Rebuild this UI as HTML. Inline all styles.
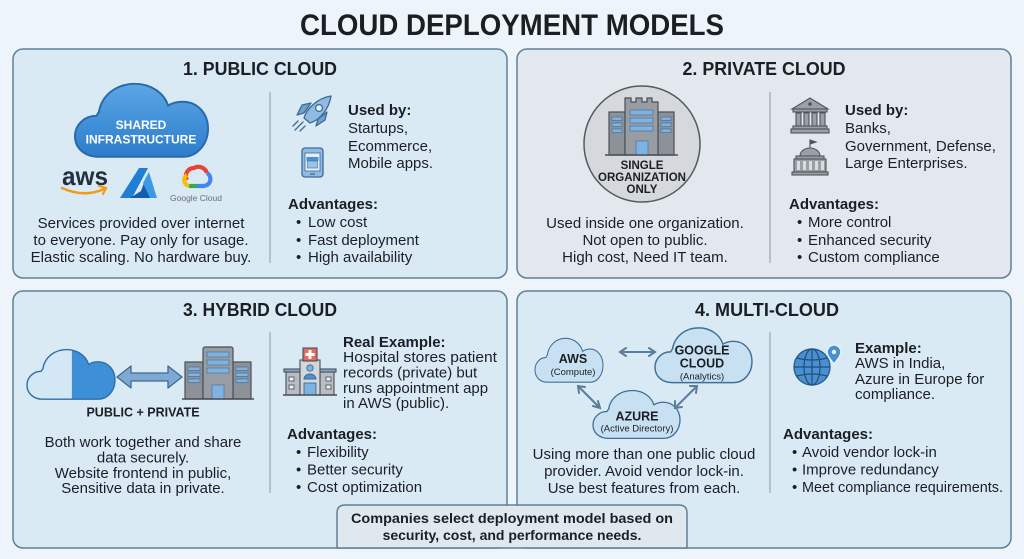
<!DOCTYPE html>
<html><head><meta charset="utf-8"><style>
html,body{margin:0;padding:0;background:#edf5fa;}
body{width:1024px;height:559px;overflow:hidden;}
svg{display:block;}
text{font-family:"Liberation Sans",Arial,sans-serif;fill:#1b1f24;}
.b{font-weight:bold;}
.t15{font-size:15px;}
</style></head><body>
<svg width="1024" height="559" viewBox="0 0 1024 559" xmlns="http://www.w3.org/2000/svg">
<defs>
<path id="cl" d="M18,60 C7,60 0,53 0,44 C0,35 7,28 16,28 C17,27 17,26 18,25 C20,12 31,3 45,3 C57,3 67,10 70,20 C73,18 77,17 81,17 C92,17 100,26 100,38 C100,50 92,60 81,60 Z"/>
<linearGradient id="gb" x1="0" y1="0" x2="0" y2="1"><stop offset="0" stop-color="#5aa6e6"/><stop offset="1" stop-color="#2d7dcb"/></linearGradient>
<clipPath id="cLx"><rect x="0" y="0" width="51" height="70"/></clipPath>
<clipPath id="cRx"><rect x="51" y="0" width="60" height="70"/></clipPath>
</defs>
<rect width="1024" height="559" fill="#edf5fa"/>

<!-- Title -->
<text x="512" y="35" class="b" font-size="30" text-anchor="middle" textLength="424" lengthAdjust="spacingAndGlyphs">CLOUD DEPLOYMENT MODELS</text>

<!-- Panels -->
<rect x="13" y="49" width="494" height="229" rx="10" fill="#daeaf5" stroke="#5f7f98" stroke-width="1.5"/>
<rect x="517" y="49" width="494" height="229" rx="10" fill="#e2e8ee" stroke="#5f7f98" stroke-width="1.5"/>
<rect x="13" y="291" width="494" height="257" rx="10" fill="#daeaf5" stroke="#5f7f98" stroke-width="1.5"/>
<rect x="517" y="291" width="494" height="257" rx="10" fill="#daeaf5" stroke="#5f7f98" stroke-width="1.5"/>

<!-- dividers -->
<line x1="270" y1="92" x2="270" y2="263" stroke="#9aa8b4" stroke-width="1.2"/>
<line x1="770" y1="92" x2="770" y2="263" stroke="#9aa8b4" stroke-width="1.2"/>
<line x1="270" y1="332" x2="270" y2="493" stroke="#9aa8b4" stroke-width="1.2"/>
<line x1="770" y1="332" x2="770" y2="493" stroke="#9aa8b4" stroke-width="1.2"/>

<!-- Headings -->
<text x="260" y="75" class="b" font-size="18.5" text-anchor="middle" textLength="154" lengthAdjust="spacingAndGlyphs">1. PUBLIC CLOUD</text>
<text x="764" y="75" class="b" font-size="18.5" text-anchor="middle" textLength="163" lengthAdjust="spacingAndGlyphs">2. PRIVATE CLOUD</text>
<text x="260" y="316" class="b" font-size="18.5" text-anchor="middle" textLength="154" lengthAdjust="spacingAndGlyphs">3. HYBRID CLOUD</text>
<text x="767" y="316" class="b" font-size="18.5" text-anchor="middle" textLength="144" lengthAdjust="spacingAndGlyphs">4. MULTI-CLOUD</text>

<!-- ===== Panel 1 ===== -->
<use href="#cl" transform="translate(75,80) scale(1.33,1.28)" fill="url(#gb)" stroke="#2a6aa8" stroke-width="1.5" vector-effect="non-scaling-stroke"/>
<text x="141" y="129" class="b" font-size="12" text-anchor="middle" style="fill:#fff">SHARED</text>
<text x="141" y="143.5" class="b" font-size="12" text-anchor="middle" style="fill:#fff">INFRASTRUCTURE</text>
<!-- aws -->
<text x="85" y="185" font-size="26" text-anchor="middle" style="fill:#232f3e;font-weight:bold" textLength="46" lengthAdjust="spacingAndGlyphs">aws</text>
<path d="M62,188 Q84,198 104,189" fill="none" stroke="#f49a1a" stroke-width="2.6" stroke-linecap="round"/>
<path d="M99,186 L106,188 L103,194" fill="none" stroke="#f49a1a" stroke-width="2.2" stroke-linecap="round"/>
<!-- azure -->
<path d="M139,168 L148,168 L132,198 L120,198 Z" fill="#1f7fd4"/>
<path d="M146,177 L157,198 L130,198 L141,191 Z" fill="#0f5fae"/>
<path d="M149,172 L157,198 L150,198 L143,183 Z" fill="#3a9ae6"/>
<!-- google cloud -->
<path d="M187,180 A8,8 0 0 1 194,168 A9,9 0 0 1 207,173" fill="none" stroke="#ea4335" stroke-width="4.2"/>
<path d="M207,173 A7,7 0 0 1 203,186 L197,186" fill="none" stroke="#4285f4" stroke-width="4.2"/>
<path d="M197,186 L189,186" fill="none" stroke="#34a853" stroke-width="4.2"/>
<path d="M189,186 A6,6 0 0 1 187,175" fill="none" stroke="#fbbc05" stroke-width="4.2"/>
<text x="196" y="201" font-size="8.5" text-anchor="middle" style="fill:#6a6e73">Google Cloud</text>
<!-- desc -->
<text x="141" y="228" class="t15" text-anchor="middle">Services provided over internet</text>
<text x="141" y="245" class="t15" text-anchor="middle">to everyone. Pay only for usage.</text>
<text x="141" y="262" class="t15" text-anchor="middle">Elastic scaling. No hardware buy.</text>
<!-- rocket -->
<g stroke="#3d6a94" stroke-width="1.3" stroke-linejoin="round">
<path d="M304,113 L297,115 L302,105 L311,103 Z" fill="#6fa0cf"/>
<path d="M318,119 L316,126 L325,120 L327,112 Z" fill="#6fa0cf"/>
<path d="M304,118 C307,108 318,98 331,96 C329,109 320,120 310,123 Z" fill="#8fbbe2"/>
<circle cx="319" cy="108" r="3.4" fill="#e8f2fa"/>
</g>
<path d="M295,130 L303,122 M300,131 L305,126 M293,126 L298,121" stroke="#3d6a94" stroke-width="1.3" stroke-linecap="round"/>
<!-- phone -->
<rect x="302" y="148" width="21" height="29" rx="3" fill="#8fbbe2" stroke="#3d6a94" stroke-width="1.3"/>
<rect x="305" y="153" width="15" height="18" fill="#e4eff8" stroke="#3d6a94" stroke-width="0.8"/>
<rect x="306.5" y="157" width="12" height="4" fill="#4f8fcf"/>
<rect x="307.5" y="161" width="10" height="7" fill="#9cc4e8" stroke="#3d6a94" stroke-width="0.6"/>
<line x1="310" y1="174" x2="315" y2="174" stroke="#3d6a94" stroke-width="1.3"/>
<!-- right text -->
<text x="348" y="115" class="b t15">Used by:</text>
<text x="348" y="133" class="t15">Startups,</text>
<text x="348" y="151" class="t15">Ecommerce,</text>
<text x="348" y="168" class="t15">Mobile apps.</text>
<text x="288" y="209" class="b t15">Advantages:</text>
<text x="296" y="227" class="t15">•</text><text x="308" y="227" class="t15">Low cost</text>
<text x="296" y="245" class="t15">•</text><text x="308" y="245" class="t15">Fast deployment</text>
<text x="296" y="262" class="t15">•</text><text x="308" y="262" class="t15">High availability</text>

<!-- ===== Panel 2 ===== -->
<circle cx="642" cy="144" r="58" fill="#d5d9dd" stroke="#55595e" stroke-width="1.5"/>
<g stroke="#4a4f55" stroke-width="1.2">
<rect x="609" y="112" width="16" height="43" fill="#8c9298"/>
<rect x="658" y="112" width="16" height="43" fill="#8c9298"/>
<path d="M625,155 L625,104 L625,98 L631,98 L631,102 L636,102 L636,98 L642,98 L642,102 L647,102 L647,98 L652,98 L652,102 L658,102 L658,155 Z" fill="#979da3"/>
</g>
<g fill="#7fb2e0" stroke="#3d6a94" stroke-width="0.6">
<rect x="630" y="110" width="23" height="5"/><rect x="630" y="118" width="23" height="5"/><rect x="630" y="126" width="23" height="5"/>
<rect x="612" y="117" width="10" height="3.5"/><rect x="612" y="123" width="10" height="3.5"/><rect x="612" y="129" width="10" height="3.5"/>
<rect x="661" y="117" width="10" height="3.5"/><rect x="661" y="123" width="10" height="3.5"/><rect x="661" y="129" width="10" height="3.5"/>
<rect x="636" y="141" width="12" height="14"/>
</g>
<line x1="605" y1="155" x2="678" y2="155" stroke="#4a4f55" stroke-width="1.5"/>
<text x="642" y="169" class="b" font-size="11.5" text-anchor="middle">SINGLE</text>
<text x="642" y="181" class="b" font-size="11.5" text-anchor="middle">ORGANIZATION</text>
<text x="642" y="193" class="b" font-size="11.5" text-anchor="middle">ONLY</text>
<text x="645" y="228" class="t15" text-anchor="middle">Used inside one organization.</text>
<text x="645" y="245" class="t15" text-anchor="middle">Not open to public.</text>
<text x="645" y="262" class="t15" text-anchor="middle">High cost, Need IT team.</text>
<!-- bank -->
<g fill="#9aa0a6" stroke="#50555a" stroke-width="1.1">
<path d="M792,109 L810,98 L828,109 Z"/>
<rect x="793" y="109" width="34" height="3"/>
<rect x="796" y="113" width="5" height="13"/><rect x="804" y="113" width="5" height="13"/><rect x="812" y="113" width="5" height="13"/><rect x="820" y="113" width="5" height="13"/>
<rect x="793" y="126" width="34" height="3"/><rect x="791" y="129" width="38" height="4"/>
</g>
<circle cx="810" cy="104" r="1.8" fill="#50555a"/>
<!-- government -->
<g fill="#9aa0a6" stroke="#50555a" stroke-width="1.1">
<line x1="810" y1="140" x2="810" y2="149"/>
<path d="M810,140 L816,142 L810,144 Z" fill="#50555a"/>
<path d="M800,156 A10,8 0 0 1 820,156 Z"/>
<rect x="796" y="156" width="28" height="3"/>
<rect x="794" y="159" width="32" height="13"/>
<rect x="792" y="172" width="36" height="3"/>
</g>
<g fill="#d9dde1"><rect x="797" y="161" width="3" height="9"/><rect x="803" y="161" width="3" height="9"/><rect x="809" y="161" width="3" height="9"/><rect x="815" y="161" width="3" height="9"/><rect x="821" y="161" width="3" height="9"/></g>
<text x="845" y="115" class="b t15">Used by:</text>
<text x="845" y="133" class="t15">Banks,</text>
<text x="845" y="151" class="t15">Government, Defense,</text>
<text x="845" y="168" class="t15">Large Enterprises.</text>
<text x="789" y="209" class="b t15">Advantages:</text>
<text x="797" y="227" class="t15">•</text><text x="808" y="227" class="t15">More control</text>
<text x="797" y="245" class="t15">•</text><text x="808" y="245" class="t15">Enhanced security</text>
<text x="797" y="262" class="t15">•</text><text x="808" y="262" class="t15">Custom compliance</text>

<!-- ===== Panel 3 ===== -->
<use href="#cl" transform="translate(27,347) scale(0.88,0.87)" fill="#d3e7f5" stroke="none" clip-path="url(#cLx)"/>
<use href="#cl" transform="translate(27,347) scale(0.88,0.87)" fill="#3d8fd6" stroke="none" clip-path="url(#cRx)"/>
<use href="#cl" transform="translate(27,347) scale(0.88,0.87)" fill="none" stroke="#2d6fa8" stroke-width="1.6" vector-effect="non-scaling-stroke"/>
<!-- double arrow -->
<polygon points="117,377 131,366 131,373 168,373 168,366 182,377 168,388 168,381 131,381 131,388" fill="#7ea9d3" stroke="#3d6a94" stroke-width="1.3" stroke-linejoin="round"/>
<!-- hybrid building -->
<g stroke="#4a4f55" stroke-width="1.2">
<rect x="185" y="362" width="18" height="37" fill="#8c9298"/>
<rect x="233" y="362" width="18" height="37" fill="#8c9298"/>
<rect x="203" y="347" width="30" height="52" rx="2" fill="#979da3"/>
</g>
<g fill="#7fb2e0" stroke="#3d6a94" stroke-width="0.6">
<rect x="207" y="352" width="22" height="5"/><rect x="207" y="360" width="22" height="5"/><rect x="207" y="368" width="22" height="5"/>
<rect x="188" y="367" width="12" height="3.5"/><rect x="188" y="373" width="12" height="3.5"/><rect x="188" y="379" width="12" height="3.5"/>
<rect x="236" y="367" width="12" height="3.5"/><rect x="236" y="373" width="12" height="3.5"/><rect x="236" y="379" width="12" height="3.5"/>
<rect x="212" y="385" width="12" height="14"/>
</g>
<line x1="182" y1="399" x2="254" y2="399" stroke="#4a4f55" stroke-width="1.5"/>
<text x="143" y="416.5" class="b" font-size="12.5" text-anchor="middle">PUBLIC + PRIVATE</text>
<text x="143" y="447" class="t15" text-anchor="middle">Both work together and share</text>
<text x="143" y="462.5" class="t15" text-anchor="middle">data securely.</text>
<text x="143" y="478" class="t15" text-anchor="middle">Website frontend in public,</text>
<text x="143" y="493" class="t15" text-anchor="middle">Sensitive data in private.</text>
<!-- hospital -->
<g stroke="#4a4f55" stroke-width="1.1">
<rect x="286" y="372" width="14" height="23" fill="#b7bdc3"/>
<rect x="320" y="372" width="14" height="23" fill="#b7bdc3"/>
<rect x="284" y="369" width="17" height="3" fill="#7fa9d2"/>
<rect x="319" y="369" width="17" height="3" fill="#7fa9d2"/>
<rect x="300" y="360" width="20" height="35" fill="#d2d7dc"/>
<rect x="303" y="348" width="14" height="13" fill="#e36b5b"/>
</g>
<path d="M308.5,350 h3 v3 h3 v3 h-3 v3 h-3 v-3 h-3 v-3 h3 Z" fill="#fff"/>
<circle cx="310" cy="368" r="3.2" fill="#7fb2e0" stroke="#3d6a94" stroke-width="0.9"/>
<path d="M304,379 A6,5 0 0 1 316,379 Z" fill="#4f8fcf" stroke="#3d6a94" stroke-width="0.9"/>
<rect x="304" y="383" width="12" height="12" fill="#7fb2e0" stroke="#3d6a94" stroke-width="0.9"/>
<g fill="#e8eef3" stroke="#4a4f55" stroke-width="0.8"><rect x="289" y="377" width="5" height="4"/><rect x="289" y="385" width="5" height="4"/><rect x="326" y="377" width="5" height="4"/><rect x="326" y="385" width="5" height="4"/></g>
<line x1="283" y1="395" x2="337" y2="395" stroke="#4a4f55" stroke-width="1.4"/>
<text x="343" y="347" class="b t15">Real Example:</text>
<text x="343" y="362" class="t15" textLength="154" lengthAdjust="spacingAndGlyphs">Hospital stores patient</text>
<text x="343" y="377.5" class="t15">records (private) but</text>
<text x="343" y="393" class="t15">runs appointment app</text>
<text x="343" y="408" class="t15">in AWS (public).</text>
<text x="287" y="439" class="b t15">Advantages:</text>
<text x="296" y="457" class="t15">•</text><text x="307" y="457" class="t15">Flexibility</text>
<text x="296" y="474.5" class="t15">•</text><text x="307" y="474.5" class="t15">Better security</text>
<text x="296" y="492" class="t15">•</text><text x="307" y="492" class="t15">Cost optimization</text>

<!-- ===== Panel 4 ===== -->
<g fill="#c7e0f2" stroke="#3f6f97" stroke-width="1.5">
<use href="#cl" transform="translate(535,336) scale(0.68,0.77)" vector-effect="non-scaling-stroke"/>
<use href="#cl" transform="translate(655,325) scale(0.97,0.96)" vector-effect="non-scaling-stroke"/>
<use href="#cl" transform="translate(593,388) scale(0.87,0.84)" vector-effect="non-scaling-stroke"/>
</g>
<g stroke="#5a7d9a" stroke-width="2" fill="none" stroke-linecap="round">
<line x1="621" y1="352" x2="654" y2="352"/>
<path d="M626,348 L620,352 L626,356 M649,348 L655,352 L649,356"/>
<line x1="579" y1="387" x2="599" y2="407"/>
<path d="M579,393 L578,386 L585,387 M593,406 L600,408 L598,401"/>
<line x1="696" y1="387" x2="676" y2="407"/>
<path d="M690,386 L697,386 L696,393 M675,401 L675,408 L682,407"/>
</g>
<text x="573" y="363" class="b" font-size="12.5" text-anchor="middle">AWS</text>
<text x="573" y="375" font-size="9.5" text-anchor="middle">(Compute)</text>
<text x="702" y="354.5" class="b" font-size="12.5" text-anchor="middle">GOOGLE</text>
<text x="702" y="367.5" class="b" font-size="12.5" text-anchor="middle">CLOUD</text>
<text x="702" y="379.5" font-size="9.5" text-anchor="middle">(Analytics)</text>
<text x="637" y="420.5" class="b" font-size="12.5" text-anchor="middle">AZURE</text>
<text x="637" y="431.5" font-size="9.5" text-anchor="middle">(Active Directory)</text>
<text x="644" y="459" class="t15" text-anchor="middle">Using more than one public cloud</text>
<text x="644" y="476" class="t15" text-anchor="middle">provider. Avoid vendor lock-in.</text>
<text x="644" y="493" class="t15" text-anchor="middle">Use best features from each.</text>
<!-- globe -->
<circle cx="812" cy="367" r="18" fill="#4a8fcf" stroke="#2b5f8e" stroke-width="1.4"/>
<g fill="none" stroke="#1f4f7c" stroke-width="1.2">
<ellipse cx="812" cy="367" rx="8" ry="18"/>
<line x1="812" y1="349" x2="812" y2="385"/>
<line x1="794" y1="367" x2="830" y2="367"/>
<path d="M797,358 Q812,362 827,358 M797,376 Q812,372 827,376"/>
</g>
<path d="M834,364 C829,358 827,355 827,352 A7,7 0 0 1 841,352 C841,355 839,358 834,364 Z" fill="#4a8fcf" stroke="#e8f2fa" stroke-width="1.6"/>
<circle cx="834" cy="352" r="2.2" fill="#e8f2fa"/>
<text x="855" y="353" class="b t15">Example:</text>
<text x="855" y="368" class="t15">AWS in India,</text>
<text x="855" y="384" class="t15">Azure in Europe for</text>
<text x="855" y="399" class="t15">compliance.</text>
<text x="783" y="439" class="b t15">Advantages:</text>
<text x="792" y="457" class="t15">•</text><text x="802" y="457" class="t15">Avoid vendor lock-in</text>
<text x="792" y="474.5" class="t15">•</text><text x="802" y="474.5" class="t15">Improve redundancy</text>
<text x="792" y="492" class="t15">•</text><text x="802" y="492" class="t15" textLength="201" lengthAdjust="spacingAndGlyphs">Meet compliance requirements.</text>

<!-- Bottom box -->
<path d="M337,548 L337,513 Q337,505 345,505 L679,505 Q687,505 687,513 L687,548 Z" fill="#dfe8ef" stroke="#5f7f98" stroke-width="1.5"/>
<text x="512" y="523" class="b" font-size="14" text-anchor="middle" textLength="322" lengthAdjust="spacingAndGlyphs">Companies select deployment model based on</text>
<text x="512" y="540" class="b" font-size="14" text-anchor="middle">security, cost, and performance needs.</text>
</svg>
</body></html>
